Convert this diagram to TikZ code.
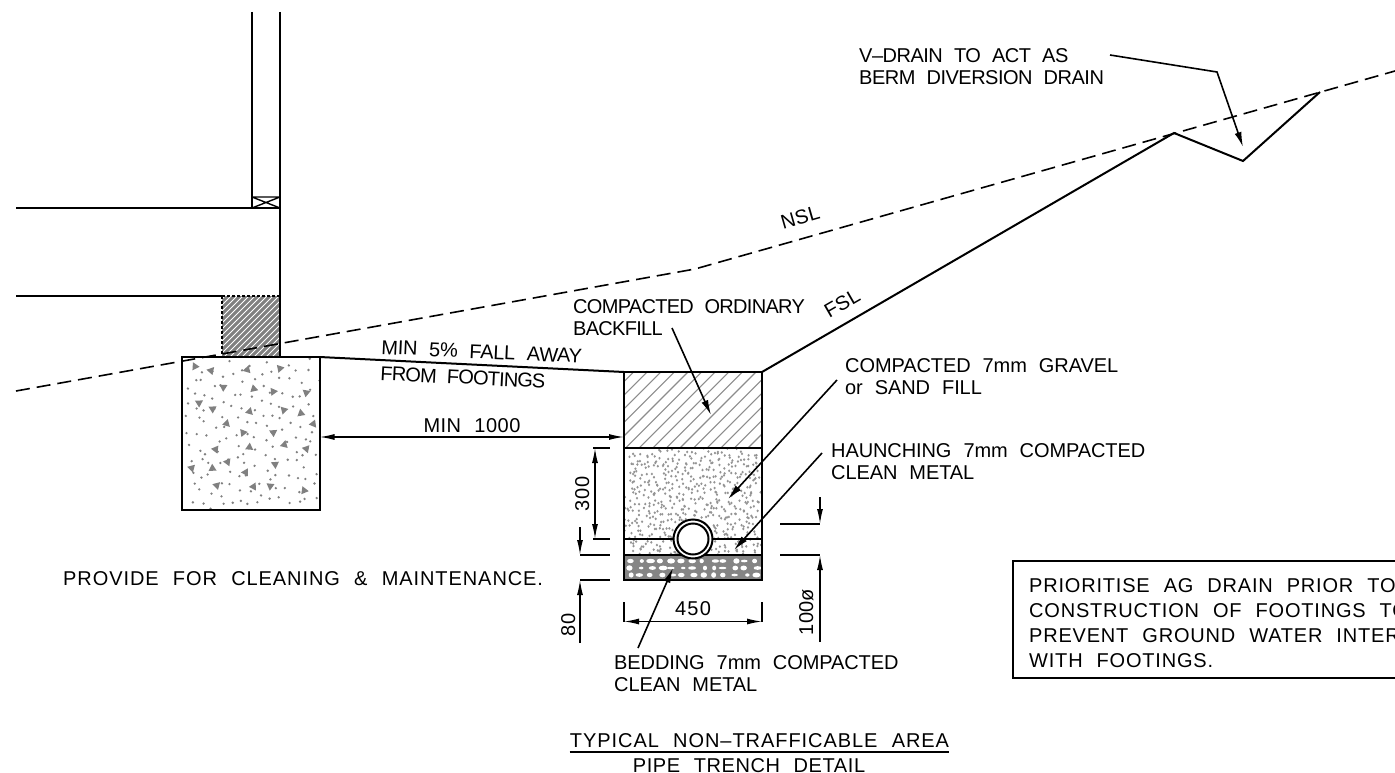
\documentclass[tikz,border=0pt]{standalone}
\usepackage{fontspec}
\setmainfont[LetterSpace=1.5,WordSpace=2.2]{Liberation Sans}
\newcommand{\lsp}[1]{\addfontfeature{LetterSpace=#1}}
\usetikzlibrary{arrows.meta}
\tikzset{
  x=1pt,y=-1pt,
  main/.style={line width=2pt,black},
  thin line/.style={line width=1.4pt,black},
  groundline/.style={line width=1.6pt,dash pattern=on 14pt off 7pt},
  leader/.style={line width=1.6pt,-{Latex[length=15pt,width=7pt]}},
  dimline/.style={line width=1.4pt,{Latex[length=15pt,width=6pt]}-{Latex[length=15pt,width=6pt]}},
  dimend/.style={line width=1.4pt,-{Latex[length=15pt,width=6pt]}},
  lbl/.style={inner sep=0pt,anchor=base west,align=left,font=\fontsize{20}{22}\selectfont},
  clbl/.style={inner sep=0pt,anchor=base,font=\fontsize{20}{22}\selectfont},
  hatchline/.style={line width=1.1pt,black!45},
  speck/.style={fill=black!50,draw=none},
}
\begin{document}
\begin{tikzpicture}
\useasboundingbox (0,0) rectangle (1395,773);
\clip (0,0) rectangle (1395,773);
\fill[white] (0,0) rectangle (1395,773);
% ---------- dark hatch under wall
\begin{scope}
\clip (222,296) rectangle (280,357);
\fill[black!50] (222,296) rectangle (280,357);
\foreach \k in {0,6,...,126} \draw[white,line width=1pt] (222+\k-70,357) -- ++(70,-70);
\end{scope}
\draw[line width=1.2pt,densely dashed] (222,296) rectangle (280,357);
% ---------- footing fill
\pgfmathsetseed{4711}
\foreach \i in {1,...,150}{
  \pgfmathsetmacro{\px}{184+134*frac(\i*0.7549)+6*rnd-3}\pgfmathsetmacro{\py}{360+148*frac(\i*0.5698)+6*rnd-3}
  \fill[speck] (\px,\py) circle (1.3pt);}
\foreach \i in {1,...,30}{
  \pgfmathsetmacro{\px}{190+122*frac(\i*0.7549+0.4)+8*rnd-4}\pgfmathsetmacro{\py}{366+136*frac(\i*0.5698+0.2)+8*rnd-4}\pgfmathsetmacro{\pa}{360*rnd}
  \fill[speck,rotate around={\pa:(\px,\py)}] (\px-4,\py+3) -- (\px+4,\py+3) -- (\px,\py-4) -- cycle;}
% ---------- backfill hatch
\begin{scope}
\clip (624,372) rectangle (762,448);
\foreach \k in {0,13.6,...,230} \draw[hatchline] (624+\k-80,448) -- ++(100,-100);
\end{scope}
% ---------- gravel dots
\begin{scope}
\clip (625,449) rectangle (761,555);
\pgfmathsetseed{1234}
\foreach \i in {1,...,560}{
  \pgfmathsetmacro{\px}{626+134*frac(\i*0.7549)+8*rnd-4}\pgfmathsetmacro{\py}{450+104*frac(\i*0.5698)+8*rnd-4}
  \fill[fill=black!42] (\px,\py) ellipse (1.2pt and 1.4pt);}
\end{scope}
% ---------- bedding
\fill[black!48] (624,555) rectangle (762,580);
\pgfmathsetseed{77}
\foreach \rowy in {561,568,575}{
  \foreach \k in {0,...,12}{
    \pgfmathsetmacro{\px}{628+\k*10.5+4*rnd}\pgfmathsetmacro{\ra}{2+2.5*rnd}\pgfmathsetmacro{\rb}{1.2+1.6*rnd}
    \fill[white] (\px,\rowy) ellipse ({\ra pt} and {\rb pt});}}
% ---------- building
\draw[thin line] (252,12) -- (252,208);
\draw[main] (280,12) -- (280,357);
\draw[main] (16,208) -- (280,208);
\draw[main] (16,296) -- (222,296);
\draw[thin line] (252,197) -- (280,197) (252,197) -- (280,208) (252,208) -- (280,197);
% ---------- footing
\draw[main] (182,357) rectangle (319.5,509.5);
% ---------- trench
\draw[main] (624,372) rectangle (762,580);
\draw[main] (624,448) -- (762,448);
\draw[thin line] (624,539) -- (673.5,539) (712.5,539) -- (762,539);
\draw[main] (624,555) -- (762,555);
% ---------- pipe
\fill[white] (693,539) circle (19.5pt);
\draw[main] (693,539) circle (19.5pt);
\draw[main] (693,539) circle (15.5pt);
% ---------- ground
\draw[main] (319.5,357) -- (624,372);
\draw[main] (762,372) -- (1174,133) -- (1243,161) -- (1320,92);
\draw[groundline] (16,391) -- (695,269) -- (1395,71);
% ---------- dimensions
\draw[dimline] (319.5,437) -- (624,437);
\draw[thin line] (593,448) -- (610,448) (593,539) -- (610,539);
\draw[dimline] (595,448) -- (595,539);
\draw[thin line] (580,555) -- (610,555) (580,580) -- (610,580);
\coordinate (d80a) at (580,527); \coordinate (d80b) at (580,555);
\coordinate (d80c) at (580,643); \coordinate (d80d) at (580,580);
\draw[dimend] (d80a) -- (d80b);
\draw[dimend] (d80c) -- (d80d);
\draw[thin line] (780,524) -- (820,524) (780,555) -- (820,555);
\coordinate (d100a) at (820,497); \coordinate (d100b) at (820,524);
\coordinate (d100c) at (820,642); \coordinate (d100d) at (820,555);
\draw[dimend] (d100a) -- (d100b);
\draw[dimend] (d100c) -- (d100d);
\draw[thin line] (624,602) -- (624,622) (762,602) -- (762,622);
\draw[dimline] (624,621.5) -- (762,621.5);
% ---------- labels
\node[clbl,rotate=16] (nsl) at (802,224) {NSL};
\node[clbl,rotate=30] (fsl) at (845.5,309) {FSL};
\node[lbl] (vdrain) at (859,85) {\lsp{-2.5}V–DRAIN TO ACT AS\\\lsp{-2.5}BERM DIVERSION DRAIN};
\node[lbl] (backfill) at (573,335) {\lsp{-3.5}COMPACTED ORDINARY\\\lsp{-3.5}BACKFILL};
\node[lbl,rotate=-2.6] (fall1) at (381,354) {\lsp{-1.3}MIN 5\% FALL AWAY};
\node[lbl,rotate=-2.9] (fall2) at (380,380) {\lsp{-4.3}FROM FOOTINGS};
\node[clbl] (min) at (472,432) {\lsp{2.5}MIN 1000};
\node[lbl] (gravel) at (845,394) {\lsp{-0.5}COMPACTED 7mm GRAVEL\\\lsp{-0.5}or SAND FILL};
\node[lbl] (haunch) at (831,479) {\lsp{-0.5}HAUNCHING 7mm COMPACTED\\\lsp{-0.5}CLEAN METAL};
\node[lbl] (clean) at (63,585) {\lsp{4.6}PROVIDE FOR CLEANING \& MAINTENANCE.};
\node[clbl] (d450) at (693,615) {\lsp{6}450};
\node[clbl,rotate=90] (d300) at (589,494) {\lsp{6}300};
\node[clbl,rotate=90] (d80) at (575,625) {\lsp{6}80};
\node[clbl,rotate=90] (d100) at (813,612) {100ø};
\node[lbl] (bedding) at (614,691) {\lsp{-0.5}BEDDING 7mm COMPACTED\\\lsp{-0.5}CLEAN METAL};
\node[lbl,font=\fontsize{20}{25}\selectfont] (note) at (1029,667) {\lsp{4}PRIORITISE AG DRAIN PRIOR TO\\\lsp{4}CONSTRUCTION OF FOOTINGS TO\\\lsp{4}PREVENT GROUND WATER INTER\\\lsp{4}WITH FOOTINGS.};
\node[clbl] (title1) at (759.5,747) {\lsp{4.7}TYPICAL NON–TRAFFICABLE AREA};
\draw[thin line] (title1.west |- 0,752) -- (title1.east |- 0,752);
\node[clbl] (title2) at (749,772) {\lsp{3}PIPE TRENCH DETAIL};
\draw[main] (1395,561) -- (1013,561) -- (1013,678) -- (1395,678);
% ---------- leaders
\coordinate (vA) at (1110,55); \coordinate (vB) at (1217,72); \coordinate (vC) at (1243,147);
\draw[leader] (vA) -- (vB) -- (vC);
\coordinate (bA) at (672,328); \coordinate (bB) at (711,415);
\draw[leader] (bA) -- (bB);
\coordinate (gA) at (837,380); \coordinate (gB) at (728,499);
\draw[leader] (gA) -- (gB);
\coordinate (hA) at (822,453); \coordinate (hB) at (734,550);
\draw[leader] (hA) -- (hB);
\coordinate (eA) at (638,648); \coordinate (eB) at (673,568);
\draw[leader] (eA) -- (eB);
\end{tikzpicture}
\end{document}
